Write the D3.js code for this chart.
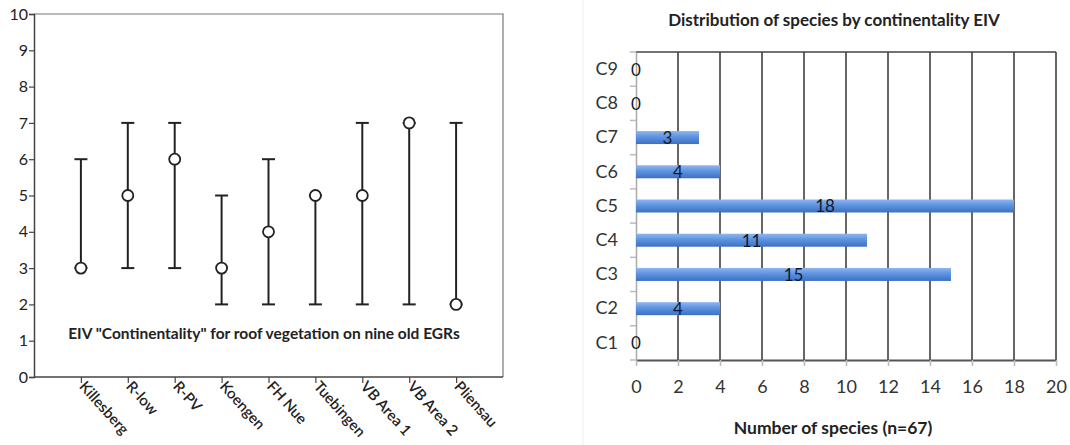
<!DOCTYPE html>
<html>
<head>
<meta charset="utf-8">
<script src="https://cdn.jsdelivr.net/npm/d3@7"></script>
<style>
  body { margin: 0; background: #fff; }
  svg { display: block; }
  text { font-family: Lato, "Open Sans", sans-serif; }
</style>
</head>
<body>
<div id="chart"></div>
<script>
// Dados do grafico da esquerda (EIV continentality)
const sites = ["Killesberg", "R-low", "R-PV", "Koengen", "FH Nue", "Tuebingen", "VB Area 1", "VB Area 2", "Pliensau"]
const medians = [3, 5, 6, 3, 4, 5, 5, 7, 2]
const mins = [3, 3, 3, 2, 2, 2, 2, 2, 2]
const maxs = [6, 7, 7, 5, 6, 5, 7, 7, 7]
const leftTicks = [0, 1, 2, 3, 4, 5, 6, 7, 8, 9, 10]

// Dados do grafico da direita (distribuicao de especies)
const classes = ["C1", "C2", "C3", "C4", "C5", "C6", "C7", "C8", "C9"]
const counts = [0, 4, 15, 11, 18, 4, 3, 0, 0]
const rightTicks = [0, 2, 4, 6, 8, 10, 12, 14, 16, 18, 20]

const W = 1070, H = 445

let svg = d3.select("#chart").append("svg")
  .attr("width", W)
  .attr("height", H)

// ---------- Grafico da esquerda ----------
const L = { left: 34, right: 503, top: 14, bottom: 377 }

const xL = d3.scalePoint()
  .domain(sites)
  .range([L.left, L.right])
  .padding(1)

const yL = d3.scaleLinear()
  .domain([0, 10])
  .range([L.bottom, L.top])

let gL = svg.append("g")

// moldura (topo e direita)
gL.append("path")
  .attr("d", `M${L.left},${L.top}H${L.right}V${L.bottom}`)
  .attr("fill", "none")
  .attr("stroke", "#777")
  .attr("stroke-width", 1.2)

// eixo Y
let axisYL = gL.append("g")
  .attr("transform", `translate(${L.left},0)`)
  .call(d3.axisLeft(yL).tickValues(leftTicks).tickSize(5).tickPadding(1))
axisYL.select(".domain").attr("stroke", "#444").attr("stroke-width", 1.5)
axisYL.selectAll(".tick line").attr("stroke", "#444").attr("stroke-width", 1.2)
axisYL.selectAll(".tick text")
  .attr("font-size", 16)
  .attr("fill", "#222")

// eixo X
let axisXL = gL.append("g")
  .attr("transform", `translate(0,${L.bottom})`)
  .call(d3.axisBottom(xL).tickSize(6).tickSizeOuter(0))
axisXL.select(".domain").attr("stroke", "#444").attr("stroke-width", 1.5)
  .attr("d", `M${L.left},0H${L.right}`)
axisXL.selectAll(".tick line").attr("stroke", "#444").attr("stroke-width", 1.2)
axisXL.selectAll(".tick text")
  .attr("font-size", 15)
  .attr("font-weight", 600)
  .attr("fill", "#222")
  .attr("text-anchor", "start")
  .attr("dy", 0)
  .attr("y", 0)
  .attr("transform", "translate(-3,10) rotate(48)")

// barras de erro
let bars = gL.selectAll(".err")
  .data(sites)
  .enter()
  .append("g")
  .attr("class", "err")
  .attr("stroke", "#222")
  .attr("stroke-width", 2)
  .attr("fill", "none")

bars.append("line")
  .attr("x1", d => xL(d)).attr("x2", d => xL(d))
  .attr("y1", (d, i) => yL(mins[i]))
  .attr("y2", (d, i) => yL(maxs[i]))

bars.append("line")
  .attr("x1", d => xL(d) - 6.5).attr("x2", d => xL(d) + 6.5)
  .attr("y1", (d, i) => yL(maxs[i]))
  .attr("y2", (d, i) => yL(maxs[i]))

bars.append("line")
  .attr("x1", d => xL(d) - 6.5).attr("x2", d => xL(d) + 6.5)
  .attr("y1", (d, i) => yL(mins[i]))
  .attr("y2", (d, i) => yL(mins[i]))

bars.append("circle")
  .attr("cx", d => xL(d))
  .attr("cy", (d, i) => yL(medians[i]))
  .attr("r", 5.5)
  .attr("fill", "#fff")
  .attr("stroke-width", 1.8)

// titulo interno
gL.append("text")
  .attr("x", 264)
  .attr("y", 339)
  .attr("text-anchor", "middle")
  .attr("font-size", 15.5)
  .attr("font-weight", "bold")
  .attr("fill", "#222")
  .text('EIV "Continentality" for roof vegetation on nine old EGRs')

// ---------- Grafico da direita ----------
const R = { left: 636, right: 1056, top: 52, bottom: 360 }

// linha clara de borda da imagem
svg.append("line")
  .attr("x1", 583).attr("x2", 583)
  .attr("y1", 0).attr("y2", H)
  .attr("stroke", "#f0f0f0")

const xR = d3.scaleLinear()
  .domain([0, 20])
  .range([R.left, R.right])

const yR = d3.scaleBand()
  .domain(classes.slice().reverse())
  .range([R.top, R.bottom])

let gR = svg.append("g")

// gradiente das barras
let grad = svg.append("defs").append("linearGradient")
  .attr("id", "barGrad")
  .attr("x1", 0).attr("x2", 0).attr("y1", 0).attr("y2", 1)
grad.append("stop").attr("offset", "0%").attr("stop-color", "#8fb6ee")
grad.append("stop").attr("offset", "45%").attr("stop-color", "#5d93e0")
grad.append("stop").attr("offset", "100%").attr("stop-color", "#3d70c2")

// grade vertical
gR.selectAll(".grid")
  .data(rightTicks.filter(d => d > 0))
  .enter()
  .append("line")
  .attr("class", "grid")
  .attr("x1", d => xR(d)).attr("x2", d => xR(d))
  .attr("y1", R.top).attr("y2", R.bottom)
  .attr("stroke", "#666")
  .attr("stroke-width", 2)

// topo
gR.append("line")
  .attr("x1", R.left).attr("x2", R.right)
  .attr("y1", R.top).attr("y2", R.top)
  .attr("stroke", "#444")
  .attr("stroke-width", 1.5)

// eixo X
let axisXR = gR.append("g")
  .attr("transform", `translate(0,${R.bottom})`)
  .call(d3.axisBottom(xR).tickValues(rightTicks).tickSize(6).tickSizeOuter(0).tickPadding(14))
axisXR.select(".domain").attr("stroke", "#555").attr("stroke-width", 2)
axisXR.selectAll(".tick line").attr("stroke", "#bbb").attr("stroke-width", 1.5)
axisXR.selectAll(".tick text")
  .attr("font-size", 18)
  .attr("fill", "#333")

// eixo Y
let axisYR = gR.append("g")
  .attr("transform", `translate(${R.left},0)`)
  .call(d3.axisLeft(yR).tickSize(0).tickPadding(18))
axisYR.select(".domain").attr("stroke", "#aaa").attr("stroke-width", 1.5)
axisYR.selectAll(".tick text")
  .attr("font-size", 18)
  .attr("fill", "#333")

// marcas entre categorias
gR.selectAll(".ytick")
  .data(d3.range(classes.length + 1))
  .enter()
  .append("line")
  .attr("class", "ytick")
  .attr("x1", R.left - 6).attr("x2", R.left)
  .attr("y1", d => R.top + d * yR.step())
  .attr("y2", d => R.top + d * yR.step())
  .attr("stroke", "#bbb")
  .attr("stroke-width", 1.5)

// barras
const barH = 13
gR.selectAll(".bar")
  .data(classes)
  .enter()
  .append("rect")
  .attr("class", "bar")
  .attr("x", xR(0))
  .attr("y", d => yR(d) + yR.bandwidth() / 2 - barH / 2)
  .attr("width", (d, i) => xR(counts[i]) - xR(0))
  .attr("height", barH)
  .attr("fill", "url(#barGrad)")

// rotulos dos valores
gR.selectAll(".val")
  .data(classes)
  .enter()
  .append("text")
  .attr("class", "val")
  .attr("x", (d, i) => (xR(0) + xR(counts[i])) / 2)
  .attr("y", d => yR(d) + yR.bandwidth() / 2)
  .attr("dy", "0.38em")
  .attr("text-anchor", "middle")
  .attr("font-size", 17)
  .attr("fill", "#111a30")
  .text((d, i) => counts[i])

// titulos
svg.append("text")
  .attr("x", 834)
  .attr("y", 26)
  .attr("text-anchor", "middle")
  .attr("font-size", 17)
  .attr("font-weight", "bold")
  .attr("fill", "#222")
  .text("Distribution of species by continentality EIV")

svg.append("text")
  .attr("x", 833)
  .attr("y", 434)
  .attr("text-anchor", "middle")
  .attr("font-size", 17.5)
  .attr("font-weight", "bold")
  .attr("fill", "#222")
  .text("Number of species (n=67)")
</script>
</body>
</html>
